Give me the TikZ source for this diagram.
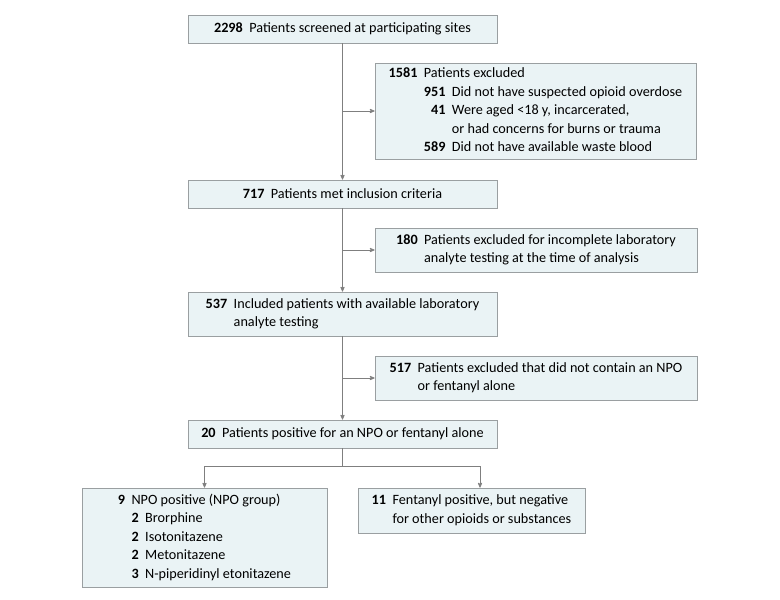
\documentclass[tikz,border=0pt]{standalone}
\usepackage{fontspec}
\setmainfont{Carlito}
\usetikzlibrary{arrows,calc,positioning}

\definecolor{boxfill}{HTML}{EAF3F5}
\definecolor{boxline}{HTML}{9A9FA1}
\definecolor{flowline}{HTML}{7F7F7F}

\tikzset{
  flowbox/.style={draw=boxline, fill=boxfill, line width=0.7pt, inner sep=0pt,
    font=\fontsize{14.2}{18.5}\selectfont},
  flowarrow/.style={draw=flowline, line width=0.8pt, -stealth'},
  flowlink/.style={draw=flowline, line width=0.8pt}
}

\newcommand{\nn}[1]{\textbf{#1}}

\begin{document}
\begin{tikzpicture}[x=1pt, y=-1pt]
\useasboundingbox (0,0) rectangle (780,600);

% main column
\node[flowbox, minimum width=309pt, minimum height=28pt] (screened) at (342.5, 29)
  {\nn{2298}\ \ Patients screened at participating sites};

\node[flowbox, minimum width=309pt, minimum height=28pt] (met) at (342.5, 194)
  {\nn{717}\ \ Patients met inclusion criteria};

\node[flowbox, minimum width=309pt, minimum height=44pt] (included) at (342.5, 314)
  {\begin{tabular}{@{}r@{\ \ }l@{}}
   \nn{537} & Included patients with available laboratory\\
            & analyte testing
   \end{tabular}};

\node[flowbox, minimum width=309pt, minimum height=28pt] (positive) at (342.5, 434)
  {\nn{20}\ \ Patients positive for an NPO or fentanyl alone};

% exclusions
\node[flowbox, minimum width=321pt, minimum height=96pt] (excl1) at (535.5, 111)
  {\begin{tabular}{@{}r@{\ \ }r@{\ \ }l@{}}
   \nn{1581} & \multicolumn{2}{@{}l@{}}{Patients excluded}\\
             & \nn{951} & Did not have suspected opioid overdose\\
             & \nn{41}  & Were aged <18 y, incarcerated,\\
             &          & or had concerns for burns or trauma\\
             & \nn{589} & Did not have available waste blood
   \end{tabular}};

\node[flowbox, minimum width=322pt, minimum height=44pt] (excl2) at (536, 250)
  {\begin{tabular}{@{}r@{\ \ }l@{}}
   \nn{180} & Patients excluded for incomplete laboratory\\
            & analyte testing at the time of analysis
   \end{tabular}};

\node[flowbox, minimum width=322pt, minimum height=44pt] (excl3) at (536, 378)
  {\begin{tabular}{@{}r@{\ \ }l@{}}
   \nn{517} & Patients excluded that did not contain an NPO\\
            & or fentanyl alone
   \end{tabular}};

% groups
\node[flowbox, minimum width=245pt, minimum height=99pt] (npo) at (204.5, 537.5)
  {\begin{tabular}{@{}r@{\ \ }r@{\ \ }l@{}}
   \nn{9} & \multicolumn{2}{@{}l@{}}{NPO positive (NPO group)}\\
          & \nn{2} & Brorphine\\
          & \nn{2} & Isotonitazene\\
          & \nn{2} & Metonitazene\\
          & \nn{3} & N-piperidinyl etonitazene
   \end{tabular}};

\node[flowbox, minimum width=227pt, minimum height=45pt] (fentanyl) at (471.5, 510.5)
  {\begin{tabular}{@{}r@{\ \ }l@{}}
   \nn{11} & Fentanyl positive, but negative\\
           & for other opioids or substances
   \end{tabular}};

% connectors
\draw[flowarrow] (screened.south) -- (met.north);
\draw[flowarrow] (screened.south |- excl1.west) -- (excl1.west);
\draw[flowarrow] (met.south) -- (included.north);
\draw[flowarrow] (met.south |- excl2.west) -- (excl2.west);
\draw[flowarrow] (included.south) -- (positive.north);
\draw[flowarrow] (included.south |- excl3.west) -- (excl3.west);

\coordinate (split) at ($(positive.south) + (0,18)$);
\coordinate (leftend) at (npo.north |- split);
\coordinate (rightend) at ($(split -| fentanyl.north) + (8.5,0)$);
\draw[flowlink] (positive.south) -- (split);
\draw[flowlink] (leftend) -- (rightend);
\draw[flowarrow] (leftend) -- (npo.north);
\draw[flowarrow] (rightend) -- (rightend |- fentanyl.north);
\end{tikzpicture}
\end{document}
